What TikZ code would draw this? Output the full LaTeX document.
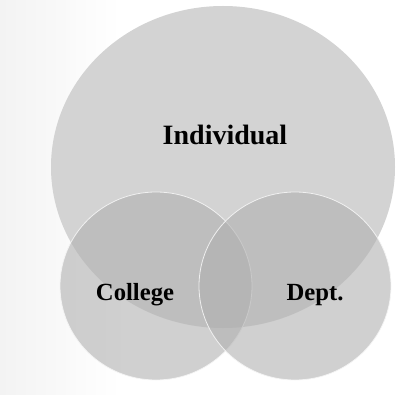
\documentclass[tikz,border=0pt]{standalone}
\usepackage{fontspec}
\setmainfont{Liberation Serif}
\usepackage{tikz}

\tikzset{
  bigset/.style={fill={rgb, 255:red, 211; green, 211; blue, 211 }, fill opacity=1},
  smallset/.style={fill={rgb, 255:red, 176; green, 176; blue, 176 }, fill opacity=0.6,
                   draw={rgb, 255:red, 245; green, 245; blue, 245 }, draw opacity=0.9, line width=0.6},
  setlabel/.style={inner sep=0.75pt, font=\bfseries\fontsize{18.5}{22}\selectfont},
}

\begin{document}
\begin{tikzpicture}[x=0.75pt,y=0.75pt,yscale=-1,xscale=1]
\useasboundingbox (0,0) rectangle (396,395); %diagram is 396 x 395

%Background: faint shading on the left
\fill [left color={rgb, 255:red, 243; green, 243; blue, 243 }, right color=white] (0,0) rectangle (120,395) ;

%Shape: Ellipse [Individual]
\draw  [bigset, draw=none] (223,167) ellipse (172 and 161) ;
%Shape: Circle [College]
\draw  [smallset] (156,286) ellipse (96 and 94) ;
%Shape: Circle [Dept.]
\draw  [smallset] (295,286) ellipse (96 and 94) ;

% Text Node
\draw (225,135) node (individual) [setlabel, font=\bfseries\fontsize{21}{24}\selectfont] {Individual};
% Text Node
\draw (135,295) node (college) [setlabel] {College};
% Text Node
\draw (315,295) node (dept) [setlabel] {Dept.};

\end{tikzpicture}
\end{document}
